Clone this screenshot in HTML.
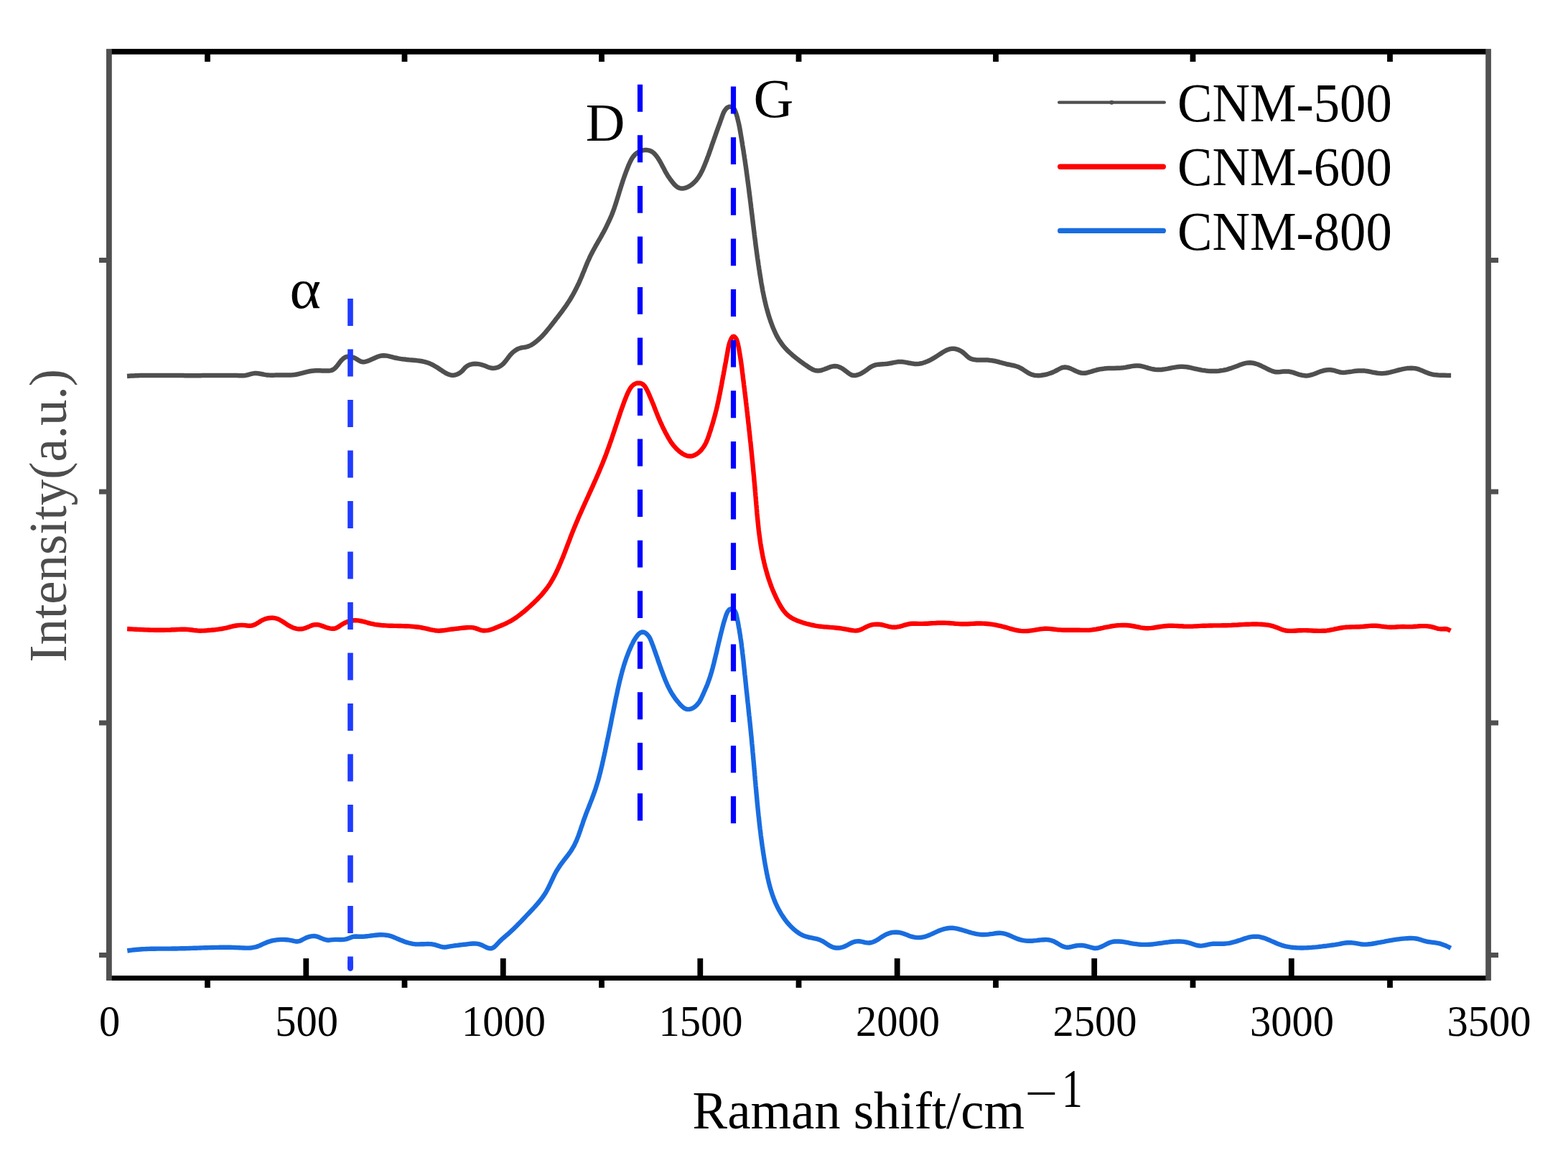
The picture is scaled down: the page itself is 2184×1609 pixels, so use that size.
<!DOCTYPE html>
<html lang="en"><head><meta charset="utf-8"><title>Raman spectra of CNM-500, CNM-600 and CNM-800</title>
<style>
html,body{margin:0;padding:0;background:#fff;}
body{width:2184px;height:1609px;overflow:hidden;}
svg{display:block;width:2184px;height:1609px;}
text{font-family:"Liberation Serif","DejaVu Serif",serif;}
.tk{font-size:61px;fill:#000;text-anchor:middle;}
.lb{font-size:72px;fill:#000;}
.c{fill:none;stroke-linejoin:round;stroke-linecap:butt;}
.d{fill:none;stroke-width:7.2;stroke-dasharray:37.9 32.68;}
</style></head><body>
<svg width="2184" height="1609" viewBox="0 0 2184 1609">
<rect width="2184" height="1609" fill="#fff"/>
<path class="c" stroke="#4f4f4f" stroke-width="6.5" d="M177 523.9L180 523.7L183 523.5L186 523.4L189 523.3L192 523.2L195 523.1L198 523.1L201 523L204 523L207 523L210 522.9L213 522.9L216 522.9L219 522.9L222 523L225 523L228 523L231 523L234 523L237 523.1L240 523.1L243 523.1L246 523.1L249 523.1L252 523.1L255 523.1L258 523.2L261 523.2L264 523.2L267 523.2L270 523.2L273 523.2L276 523.2L279 523.2L282 523.1L285 523.1L288 523.1L291 523.1L294 523.1L297 523.1L300 523.1L303 523L306 523L309 523L312 523L315 523L318 522.9L321 522.9L324 522.9L327 523L330 523.1L333 523.2L336 523.3L339 523.2L342 522.9L345 522.3L348 521.4L350.9 520.6L353.9 520.1L356.8 520L359.7 520.3L362.6 520.7L365.5 521.3L368.5 521.9L371.4 522.4L374.4 522.6L377.4 522.7L380.4 522.7L383.4 522.6L386.4 522.4L389.4 522.4L392.4 522.4L395.5 522.4L398.5 522.5L401.4 522.5L404.4 522.4L407.4 522.3L410.4 522L413.4 521.5L416.3 520.8L419.3 520.1L422.3 519.4L425.2 518.6L428.2 517.9L431.1 517.3L434 516.8L436.9 516.5L439.8 516.3L442.8 516.3L445.7 516.3L448.7 516.4L451.8 516.6L454.9 516.6L458 516.6L461 516.1L463.6 515.1L466 513.5L468.1 511.4L470.1 509L472 506.5L473.9 503.9L476 501.5L478.3 499.3L480.8 497.7L483.5 496.8L486.4 496.7L489.3 497.1L492.3 498L495.1 499.3L497.8 500.9L500.4 502.5L503 503.7L505.8 504.2L508.6 503.9L511.6 503.1L514.5 502L517.3 500.8L520.2 499.5L523 498.2L525.8 497L528.6 496.1L531.4 495.5L534.3 495.2L537.2 495.4L540.2 495.9L543.2 496.6L546.2 497.4L549.1 498.2L552.1 498.8L555 499.4L557.9 499.9L560.8 500.3L563.7 500.6L566.7 500.9L569.7 501.2L572.7 501.4L575.7 501.7L578.7 502L581.7 502.4L584.7 502.8L587.7 503.3L590.6 503.9L593.5 504.7L596.3 505.5L599 506.6L601.7 507.8L604.3 509.2L606.9 510.7L609.5 512.3L612 514L614.6 515.7L617.2 517.5L619.8 519.1L622.5 520.6L625.2 521.7L627.9 522.5L630.7 522.7L633.6 522.4L636.4 521.6L639.1 520.3L641.6 518.6L644 516.5L646.1 514.1L648.2 511.8L650.5 510L653.1 508.5L655.8 507.6L658.8 507L661.8 506.8L664.8 506.9L667.9 507.4L670.9 508.1L673.8 509L676.6 510.1L679.3 511.2L682.1 512.2L684.8 512.8L687.7 512.9L690.8 512.5L693.8 511.6L696.6 510.2L699.1 508.4L701.2 506.5L703.2 504.3L705 502L706.8 499.6L708.6 497.2L710.5 494.8L712.5 492.6L714.7 490.5L717 488.7L719.6 487L722.2 485.7L725 484.7L728 484.1L731 483.7L734 483.1L736.8 482.1L739.5 480.9L742.1 479.3L744.6 477.6L746.9 475.7L749.2 473.8L751.5 471.8L753.6 469.7L755.7 467.6L757.7 465.4L759.7 463.1L761.6 460.8L763.5 458.5L765.4 456.2L767.3 453.8L769.1 451.5L771 449.1L772.8 446.7L774.6 444.3L776.5 442L778.3 439.6L780.1 437.2L782 434.8L783.7 432.4L785.5 429.9L787.3 427.5L789 425L790.6 422.5L792.3 420L793.9 417.5L795.4 415L796.9 412.4L798.4 409.8L799.8 407.2L801.2 404.5L802.6 401.9L803.9 399.2L805.2 396.5L806.5 393.8L807.7 391L808.9 388.3L810.1 385.5L811.2 382.7L812.3 379.9L813.5 377.2L814.6 374.4L815.7 371.6L816.9 368.8L818 366L819.2 363.3L820.5 360.6L821.7 357.8L823.1 355.1L824.4 352.5L825.8 349.8L827.2 347.2L828.7 344.5L830.1 341.9L831.6 339.3L833.1 336.7L834.6 334.1L836.1 331.5L837.6 328.8L839 326.2L840.5 323.6L841.9 321L843.3 318.3L844.6 315.6L845.9 312.9L847.2 310.2L848.5 307.5L849.7 304.8L850.9 302.1L852.1 299.3L853.2 296.5L854.2 293.7L855.3 290.9L856.2 288L857.2 285.2L858.1 282.3L859 279.4L859.9 276.5L860.8 273.6L861.7 270.8L862.5 267.9L863.4 265L864.3 262.2L865.2 259.3L866.1 256.5L867 253.7L867.9 250.8L868.9 248L869.9 245.2L870.9 242.4L871.9 239.6L873 236.8L874.1 234L875.2 231.1L876.4 228.3L877.7 225.5L879.1 222.7L880.6 220.1L882.3 217.7L884.3 215.5L886.6 213.5L889.1 211.9L891.8 210.6L894.6 209.6L897.5 209.1L900.3 209L903.1 209.4L905.8 210.2L908.4 211.5L910.7 213.3L912.8 215.5L914.8 218L916.7 220.7L918.4 223.4L920 226.3L921.5 229L922.9 231.7L924.3 234.3L925.6 236.8L926.9 239.3L928.3 241.7L929.8 244.2L931.4 246.7L933.2 249.2L935.1 251.7L937.1 254.4L939.2 256.9L941.6 259.2L944 261L946.6 262.1L949.3 262.5L952.1 262.4L954.9 261.8L957.6 260.7L960.3 259.3L962.8 257.6L965.2 255.7L967.4 253.6L969.5 251.4L971.3 249.1L973.1 246.6L974.7 244.1L976.1 241.5L977.5 238.8L978.8 236.1L980 233.3L981.2 230.6L982.3 227.8L983.4 225L984.5 222.2L985.5 219.4L986.6 216.6L987.6 213.8L988.6 210.9L989.6 208.1L990.6 205.3L991.5 202.5L992.5 199.6L993.5 196.8L994.5 194L995.5 191.1L996.5 188.3L997.5 185.4L998.5 182.6L999.5 179.8L1000.5 177L1001.6 174.1L1002.6 171.3L1003.6 168.5L1004.6 165.7L1005.6 162.9L1006.6 160L1007.7 157.3L1009.1 154.6L1010.9 152L1013 149.9L1015.7 148.7L1018.7 148.7L1021.2 150.1L1023 152.5L1024.3 155.3L1025.3 158.2L1026.2 161L1027 163.9L1027.7 166.8L1028.4 169.7L1029.1 172.6L1029.7 175.5L1030.3 178.5L1030.8 181.4L1031.3 184.4L1031.8 187.3L1032.3 190.3L1032.8 193.3L1033.3 196.2L1033.8 199.2L1034.2 202.2L1034.7 205.1L1035.2 208.1L1035.7 211.1L1036.1 214L1036.6 217L1037 220L1037.5 222.9L1037.9 225.9L1038.3 228.9L1038.8 231.9L1039.2 234.8L1039.6 237.8L1040 240.8L1040.4 243.7L1040.8 246.7L1041.2 249.7L1041.6 252.7L1042 255.6L1042.4 258.6L1042.8 261.6L1043.2 264.6L1043.5 267.5L1043.9 270.5L1044.3 273.5L1044.7 276.5L1045 279.4L1045.4 282.4L1045.8 285.4L1046.1 288.4L1046.5 291.4L1046.8 294.3L1047.2 297.3L1047.6 300.3L1047.9 303.3L1048.3 306.2L1048.6 309.2L1049 312.2L1049.4 315.2L1049.7 318.2L1050.1 321.1L1050.5 324.1L1050.8 327.1L1051.2 330.1L1051.6 333L1052 336L1052.3 339L1052.7 342L1053.1 344.9L1053.5 347.9L1053.9 350.9L1054.3 353.9L1054.7 356.8L1055.1 359.8L1055.6 362.8L1056 365.8L1056.4 368.7L1056.9 371.7L1057.3 374.7L1057.8 377.6L1058.2 380.6L1058.7 383.6L1059.2 386.6L1059.7 389.5L1060.1 392.5L1060.6 395.4L1061.2 398.4L1061.7 401.4L1062.2 404.3L1062.8 407.3L1063.4 410.2L1064 413.2L1064.6 416.1L1065.3 419L1066 421.9L1066.7 424.9L1067.4 427.8L1068.2 430.7L1069 433.5L1069.8 436.4L1070.6 439.3L1071.5 442.1L1072.5 445L1073.4 447.8L1074.5 450.6L1075.5 453.4L1076.6 456.2L1077.8 459L1079 461.7L1080.2 464.4L1081.5 467.1L1083 469.8L1084.5 472.4L1086.1 474.9L1087.8 477.4L1089.5 479.9L1091.4 482.2L1093.3 484.5L1095.4 486.7L1097.5 488.9L1099.6 490.9L1101.9 492.9L1104.1 494.9L1106.4 496.8L1108.8 498.7L1111.1 500.5L1113.5 502.3L1115.9 504.1L1118.3 505.8L1120.7 507.6L1123.2 509.3L1125.7 511L1128.2 512.7L1130.9 514.2L1133.7 515.5L1136.5 516.3L1139.3 516.6L1142.2 516.3L1145.1 515.5L1148 514.5L1150.9 513.4L1153.8 512.2L1156.7 511.1L1159.6 510.4L1162.4 510L1165.3 510.2L1168 510.9L1170.7 512L1173.4 513.5L1176 515.3L1178.6 517.3L1181.2 519.4L1183.7 521.2L1186.3 522.5L1189.1 523L1191.8 522.9L1194.6 522.3L1197.4 521.3L1200.1 519.9L1202.8 518.3L1205.3 516.6L1207.8 514.8L1210.2 513L1212.6 511.4L1215.1 510L1217.7 508.9L1220.5 508.1L1223.5 507.7L1226.5 507.4L1229.7 507.2L1232.8 507L1235.9 506.7L1238.8 506.3L1241.8 505.7L1244.6 505.1L1247.5 504.6L1250.4 504.1L1253.2 503.9L1256.2 504L1259.2 504.4L1262.2 504.9L1265.2 505.5L1268.3 506L1271.3 506.6L1274.3 506.9L1277.3 506.9L1280.2 506.7L1283.1 506.3L1285.9 505.5L1288.7 504.6L1291.5 503.5L1294.2 502.3L1296.9 500.9L1299.6 499.4L1302.3 497.8L1304.9 496.1L1307.5 494.4L1310.1 492.7L1312.7 491L1315.3 489.5L1317.9 488.1L1320.6 487L1323.3 486.1L1326 485.7L1328.9 485.8L1331.8 486.3L1334.7 487.2L1337.5 488.5L1340.2 490.1L1342.7 492.1L1344.9 494.2L1347.1 496.3L1349.4 498.2L1351.9 499.6L1354.6 500.5L1357.4 501.1L1360.5 501.4L1363.5 501.5L1366.7 501.5L1369.8 501.4L1372.8 501.5L1375.8 501.6L1378.7 501.9L1381.6 502.3L1384.5 502.7L1387.4 503.3L1390.2 504L1393.1 504.8L1396.1 505.6L1399 506.4L1401.9 507.2L1404.9 507.8L1407.8 508.4L1410.7 509L1413.6 509.7L1416.4 510.5L1419.2 511.6L1421.8 512.9L1424.4 514.4L1426.9 516.1L1429.5 517.8L1432.1 519.4L1434.7 520.8L1437.4 521.9L1440.3 522.7L1443.3 523.1L1446.4 523.2L1449.5 523L1452.5 522.5L1455.5 522L1458.3 521.3L1461 520.5L1463.7 519.6L1466.4 518.6L1469 517.4L1471.7 516L1474.5 514.5L1477.3 513L1480.2 511.9L1483 511.6L1485.9 511.8L1488.7 512.5L1491.5 513.6L1494.4 514.9L1497.2 516.3L1500 517.6L1502.8 518.7L1505.7 519.5L1508.5 519.8L1511.4 519.7L1514.3 519.2L1517.2 518.4L1520.1 517.6L1523 516.6L1526 515.8L1528.9 515L1531.8 514.4L1534.8 514L1537.7 513.6L1540.6 513.3L1543.6 513.1L1546.6 513L1549.5 512.9L1552.5 512.9L1555.5 512.8L1558.4 512.7L1561.4 512.6L1564.4 512.3L1567.4 511.9L1570.4 511.3L1573.4 510.7L1576.4 510.1L1579.4 509.7L1582.4 509.4L1585.3 509.5L1588.3 509.8L1591.2 510.4L1594.1 511.1L1597 512L1599.9 512.8L1602.8 513.6L1605.8 514.3L1608.7 514.8L1611.6 515L1614.6 515L1617.5 514.9L1620.5 514.6L1623.5 514.1L1626.4 513.6L1629.4 513L1632.4 512.4L1635.4 511.9L1638.4 511.4L1641.3 511L1644.3 510.8L1647.2 510.7L1650.2 510.9L1653.1 511.3L1656 511.8L1659 512.4L1661.9 513.1L1664.9 513.8L1667.8 514.4L1670.8 515L1673.8 515.6L1676.8 516L1679.7 516.4L1682.7 516.7L1685.7 516.9L1688.7 517L1691.7 517L1694.7 516.9L1697.7 516.7L1700.6 516.3L1703.5 515.9L1706.5 515.3L1709.4 514.6L1712.2 513.7L1715.1 512.8L1718 511.8L1720.8 510.8L1723.7 509.7L1726.5 508.6L1729.4 507.5L1732.2 506.6L1735.1 505.9L1738 505.4L1740.8 505.3L1743.7 505.5L1746.6 506L1749.5 506.8L1752.4 507.8L1755.3 509L1758.1 510.4L1760.9 511.7L1763.7 513.1L1766.4 514.5L1769.1 515.8L1771.7 516.8L1774.5 517.7L1777.3 518.2L1780.2 518.3L1783.4 518L1786.5 517.6L1789.6 517.4L1792.7 517.4L1795.6 517.6L1798.4 518.2L1801.2 518.9L1803.9 519.9L1806.8 520.8L1809.8 521.8L1812.7 522.5L1815.7 523.1L1818.7 523.4L1821.7 523.2L1824.6 522.7L1827.4 522L1830.3 521L1833.1 519.9L1835.9 518.8L1838.8 517.7L1841.6 516.8L1844.5 516L1847.4 515.5L1850.4 515.2L1853.3 515.3L1856.3 515.7L1859.2 516.4L1862.2 517.3L1865.2 518.2L1868.1 518.7L1871.1 518.9L1874 518.8L1877 518.4L1880 518L1882.9 517.6L1885.9 517.1L1888.9 516.8L1891.9 516.5L1894.9 516.4L1897.9 516.4L1900.8 516.6L1903.8 517L1906.7 517.5L1909.7 518.1L1912.7 518.8L1915.6 519.3L1918.6 519.8L1921.5 520.1L1924.5 520.2L1927.4 520L1930.3 519.7L1933.3 519.2L1936.2 518.6L1939.1 517.8L1942.1 517.1L1945 516.3L1948 515.5L1950.9 514.8L1953.9 514.1L1956.8 513.6L1959.8 513.1L1962.7 512.9L1965.6 512.8L1968.5 512.9L1971.4 513.3L1974.3 513.9L1977.2 514.9L1980 516L1982.9 517.2L1985.7 518.4L1988.6 519.6L1991.5 520.6L1994.3 521.4L1997.2 522L2000.2 522.3L2003.1 522.6L2006.1 522.7L2009 522.8L2012 522.8L2015.1 522.9L2018.1 522.9L2021.1 522.9"/>
<path class="c" stroke="#ff0000" stroke-width="6.4" d="M177.1 876L180.1 876.2L183.1 876.4L186.1 876.6L189.1 876.7L192.1 876.9L195.1 877L198.1 877.1L201.1 877.3L204.1 877.4L207.1 877.5L210.1 877.6L213.1 877.6L216.1 877.7L219.1 877.7L222.1 877.7L225.1 877.7L228.1 877.7L231.1 877.6L234.1 877.6L237.1 877.5L240.1 877.3L243.1 877.2L246.1 877L249.1 876.9L252.1 876.8L255.1 876.7L258.1 876.7L261.1 876.9L264 877.2L267 877.5L270 878L273 878.3L276 878.6L279 878.7L282 878.6L285 878.5L288 878.3L291 878L294 877.8L297 877.5L300 877.2L302.9 876.8L305.9 876.4L308.8 876L311.8 875.4L314.7 874.8L317.6 874.1L320.4 873.3L323.3 872.6L326.2 872L329.1 871.5L332.1 871.1L335.1 870.9L338.1 870.9L341.2 871.1L344.3 871.5L347.4 871.8L350.3 871.6L353 870.9L355.7 869.8L358.2 868.3L360.8 866.7L363.4 865L366.1 863.6L369 862.4L372 861.5L375 861L378.1 860.7L381.1 860.8L384 861.3L386.8 862.2L389.5 863.4L392.1 864.9L394.6 866.5L397.1 868.2L399.7 869.9L402.3 871.5L404.9 872.9L407.6 874.2L410.4 875.2L413.2 875.9L416 876.3L418.9 876.3L421.8 876L424.7 875.2L427.6 874.1L430.5 872.8L433.3 871.6L436.2 870.6L439.1 870.1L442 870.2L444.9 870.7L447.7 871.6L450.6 872.6L453.5 873.7L456.5 874.7L459.4 875.4L462.3 875.8L465.1 875.8L467.9 875.1L470.6 873.7L473.2 872L475.9 870.2L478.6 868.6L481.4 867.2L484.2 866.1L487 865.2L489.9 864.6L492.8 864.3L495.7 864.2L498.6 864.4L501.5 864.9L504.5 865.5L507.4 866.2L510.3 867L513.2 867.8L516.2 868.6L519.1 869.2L522.1 869.8L525.1 870.3L528 870.6L531 871L534 871.2L537 871.4L540 871.6L543 871.7L546 871.8L549 871.9L552 871.9L555 872L558 872L561 872.1L563.9 872.2L566.9 872.3L569.9 872.4L572.9 872.6L575.9 872.9L578.9 873.2L581.9 873.5L584.8 873.9L587.8 874.5L590.8 875.1L593.7 875.7L596.7 876.4L599.6 877.1L602.5 877.7L605.5 878.2L608.5 878.5L611.4 878.7L614.4 878.5L617.4 878.3L620.4 877.8L623.4 877.4L626.4 876.9L629.4 876.5L632.4 876.2L635.3 875.8L638.3 875.5L641.3 875.1L644.3 874.8L647.3 874.5L650.2 874.2L653.2 874.1L656.2 874.1L659.2 874.4L662.1 875.1L665 876.1L667.9 877.2L670.8 878.1L673.7 878.5L676.6 878.4L679.6 878.1L682.5 877.4L685.4 876.5L688.2 875.5L691.1 874.3L693.9 873.1L696.7 872L699.5 870.8L702.3 869.6L705 868.3L707.6 867L710.2 865.7L712.8 864.2L715.3 862.6L717.8 861L720.3 859.3L722.7 857.5L725.1 855.7L727.4 853.8L729.8 851.9L732.1 850L734.4 848L736.6 846L738.9 844L741.1 841.9L743.3 839.9L745.4 837.8L747.6 835.7L749.7 833.5L751.7 831.4L753.8 829.2L755.7 826.9L757.6 824.6L759.5 822.3L761.3 820L763.1 817.5L764.8 815.1L766.4 812.6L768 810L769.5 807.4L770.9 804.8L772.4 802.2L773.7 799.5L775.1 796.8L776.3 794.1L777.6 791.3L778.8 788.6L780 785.8L781.2 783L782.3 780.2L783.5 777.4L784.6 774.7L785.7 771.9L786.8 769.1L787.8 766.3L788.9 763.5L790 760.7L791 757.9L792.1 755.1L793.2 752.3L794.2 749.5L795.3 746.7L796.4 743.9L797.5 741.1L798.6 738.3L799.7 735.6L800.9 732.8L802 730L803.2 727.2L804.4 724.5L805.5 721.7L806.7 719L808 716.2L809.2 713.5L810.4 710.7L811.6 708L812.9 705.2L814.1 702.5L815.3 699.8L816.6 697L817.8 694.3L819.1 691.6L820.3 688.8L821.5 686.1L822.8 683.3L824 680.6L825.3 677.9L826.5 675.1L827.7 672.4L828.9 669.7L830.1 666.9L831.3 664.2L832.5 661.4L833.7 658.7L834.9 655.9L836.1 653.1L837.2 650.4L838.4 647.6L839.5 644.8L840.6 642L841.7 639.3L842.8 636.5L843.9 633.7L844.9 630.8L846 628L847 625.2L848 622.4L849 619.5L850 616.7L851 613.9L852 611L852.9 608.2L853.9 605.3L854.8 602.5L855.8 599.6L856.7 596.8L857.7 593.9L858.6 591.1L859.6 588.2L860.5 585.4L861.5 582.5L862.4 579.7L863.4 576.9L864.3 574L865.3 571.2L866.3 568.4L867.3 565.6L868.3 562.8L869.3 560L870.4 557.2L871.5 554.5L872.6 551.7L873.8 548.8L875.1 546L876.6 543.1L878.2 540.4L880.1 538L882.3 536L884.9 534.5L887.7 533.7L890.5 533.6L893.3 534.2L895.8 535.6L897.9 537.8L899.7 540.5L901.2 543.4L902.6 546.2L903.9 549L905 551.7L906.2 554.5L907.4 557.2L908.5 560L909.7 562.7L910.8 565.5L911.8 568.3L912.9 571L914 573.8L915.1 576.6L916.2 579.4L917.4 582.2L918.6 585L919.8 587.8L921.1 590.5L922.3 593.3L923.6 596L925 598.7L926.3 601.4L927.7 604L929.1 606.6L930.5 609.2L932 611.7L933.5 614.2L935.1 616.6L936.9 619L938.8 621.4L940.9 623.7L943.1 626L945.5 628.2L948 630.2L950.6 632L953.2 633.5L955.9 634.6L958.7 635.3L961.4 635.5L964.1 635.2L966.7 634.4L969.3 633.2L971.7 631.6L974.1 629.6L976.3 627.4L978.3 625L980.1 622.5L981.8 619.8L983.2 617.1L984.4 614.4L985.5 611.7L986.5 608.9L987.5 606.1L988.4 603.3L989.4 600.4L990.3 597.6L991.1 594.7L992 591.9L992.9 589L993.7 586.1L994.5 583.2L995.3 580.3L996.1 577.4L996.8 574.5L997.6 571.5L998.3 568.6L999 565.7L999.6 562.7L1000.3 559.8L1000.9 556.9L1001.5 554L1002.1 551L1002.7 548.1L1003.3 545.1L1003.8 542.2L1004.4 539.3L1005 536.3L1005.5 533.4L1006 530.4L1006.6 527.5L1007.1 524.5L1007.7 521.6L1008.2 518.6L1008.8 515.6L1009.3 512.7L1009.9 509.7L1010.4 506.8L1011 503.8L1011.5 500.9L1012 497.9L1012.6 495L1013.1 492.1L1013.6 489.1L1014.1 486.2L1014.7 483.3L1015.4 480.3L1016.3 477.1L1017.6 473.8L1019 470.9L1020.7 469L1022.5 468.7L1024.2 470.1L1025.8 472.7L1027 476L1027.8 479.3L1028.5 482.4L1029.1 485.4L1029.6 488.3L1030.1 491.2L1030.6 494.2L1031.1 497.1L1031.5 500.1L1032 503.1L1032.4 506L1032.8 509L1033.2 512L1033.6 515L1033.9 517.9L1034.3 520.9L1034.7 523.9L1035 526.9L1035.4 529.8L1035.8 532.8L1036.1 535.8L1036.5 538.8L1036.9 541.8L1037.2 544.7L1037.6 547.7L1038 550.7L1038.3 553.7L1038.7 556.7L1039 559.6L1039.4 562.6L1039.7 565.6L1040.1 568.6L1040.4 571.6L1040.8 574.5L1041.1 577.5L1041.4 580.5L1041.8 583.5L1042.1 586.5L1042.4 589.5L1042.8 592.4L1043.1 595.4L1043.4 598.4L1043.8 601.4L1044.1 604.4L1044.4 607.4L1044.7 610.3L1045 613.3L1045.4 616.3L1045.7 619.3L1046 622.3L1046.3 625.3L1046.6 628.2L1046.9 631.2L1047.2 634.2L1047.5 637.2L1047.8 640.2L1048.1 643.2L1048.4 646.2L1048.7 649.2L1049 652.1L1049.2 655.1L1049.5 658.1L1049.8 661.1L1050.1 664.1L1050.3 667.1L1050.6 670.1L1050.9 673.1L1051.2 676.1L1051.4 679.1L1051.7 682L1051.9 685L1052.2 688L1052.4 691L1052.7 694L1052.9 697L1053.2 700L1053.4 703L1053.7 706L1053.9 709L1054.2 712L1054.4 715L1054.7 718L1055 721L1055.3 723.9L1055.6 726.9L1055.9 729.9L1056.2 732.9L1056.5 735.9L1056.8 738.9L1057.2 741.8L1057.6 744.8L1058 747.8L1058.4 750.8L1058.8 753.7L1059.2 756.7L1059.7 759.6L1060.2 762.6L1060.7 765.6L1061.2 768.5L1061.8 771.5L1062.3 774.4L1062.9 777.3L1063.6 780.3L1064.2 783.2L1064.9 786.1L1065.6 789L1066.4 791.9L1067.2 794.8L1068 797.7L1068.8 800.6L1069.7 803.4L1070.6 806.3L1071.6 809.1L1072.6 812L1073.6 814.8L1074.6 817.6L1075.7 820.4L1076.9 823.2L1078 826L1079.3 828.7L1080.5 831.4L1081.8 834.2L1083.2 836.9L1084.6 839.6L1086 842.2L1087.5 844.8L1089.1 847.4L1090.8 849.8L1092.6 852.2L1094.6 854.4L1096.7 856.5L1098.9 858.3L1101.4 860L1103.9 861.6L1106.6 862.9L1109.4 864.2L1112.2 865.3L1115.1 866.3L1117.9 867.3L1120.8 868.2L1123.7 869L1126.6 869.7L1129.5 870.4L1132.4 871L1135.4 871.6L1138.3 872.1L1141.3 872.5L1144.2 872.8L1147.2 873.2L1150.2 873.4L1153.2 873.6L1156.3 873.9L1159.3 874.1L1162.3 874.4L1165.2 874.7L1168.2 875L1171.1 875.4L1174.1 875.9L1177 876.4L1180 876.9L1183 877.5L1186 878L1188.9 878.4L1191.9 878.6L1194.8 878.3L1197.6 877.6L1200.4 876.5L1203.2 875L1205.9 873.6L1208.7 872.3L1211.5 871.3L1214.4 870.4L1217.3 869.9L1220.3 869.6L1223.2 869.7L1226.2 870L1229.2 870.5L1232.2 871.3L1235.1 872L1238 872.8L1240.9 873.4L1243.9 873.8L1246.8 873.8L1249.7 873.4L1252.7 872.9L1255.7 872.1L1258.6 871.2L1261.5 870.4L1264.5 869.6L1267.4 869L1270.3 868.7L1273.3 868.7L1276.3 868.8L1279.3 868.9L1282.3 868.9L1285.3 868.9L1288.3 868.8L1291.3 868.7L1294.3 868.5L1297.3 868.3L1300.3 868.1L1303.3 868L1306.3 867.8L1309.3 867.8L1312.3 867.7L1315.3 867.7L1318.2 867.9L1321.2 868L1324.2 868.2L1327.2 868.4L1330.2 868.7L1333.2 868.9L1336.1 869.1L1339.1 869.2L1342.1 869.3L1345.1 869.3L1348.1 869.2L1351.1 869L1354.1 868.9L1357.1 868.7L1360.1 868.5L1363.1 868.5L1366.1 868.5L1369.1 868.6L1372.1 868.7L1375.1 869L1378.1 869.3L1381.1 869.7L1384 870.2L1387 870.7L1389.9 871.3L1392.9 871.9L1395.8 872.7L1398.7 873.4L1401.6 874.2L1404.5 875L1407.3 875.8L1410.2 876.6L1413.1 877.4L1416 878L1418.9 878.5L1421.9 878.9L1424.8 879.1L1427.9 879.1L1430.9 879L1433.9 878.7L1437 878.3L1440 877.9L1443 877.4L1446 876.9L1449 876.4L1451.9 876.1L1454.9 875.8L1457.9 875.8L1460.9 875.9L1463.8 876.1L1466.8 876.5L1469.8 876.8L1472.8 877.2L1475.8 877.4L1478.8 877.6L1481.7 877.7L1484.7 877.7L1487.7 877.7L1490.7 877.7L1493.7 877.7L1496.7 877.7L1499.7 877.7L1502.8 877.8L1505.8 877.9L1508.8 877.9L1511.8 877.9L1514.8 877.9L1517.8 877.7L1520.8 877.4L1523.7 877L1526.7 876.6L1529.6 876L1532.6 875.5L1535.5 874.9L1538.5 874.2L1541.4 873.6L1544.4 873.1L1547.3 872.5L1550.3 872L1553.3 871.6L1556.2 871.3L1559.2 871.1L1562.2 871L1565.2 870.9L1568.2 871L1571.2 871.2L1574.1 871.5L1577.1 872L1580.1 872.5L1583 873.1L1586 873.7L1588.9 874.3L1591.9 874.7L1594.9 875L1597.9 875.2L1600.9 875.1L1603.9 874.9L1606.9 874.5L1609.9 874L1612.8 873.5L1615.8 873L1618.8 872.6L1621.7 872.3L1624.7 872L1627.7 871.8L1630.7 871.8L1633.7 871.8L1636.7 871.9L1639.7 872L1642.7 872.2L1645.7 872.3L1648.7 872.5L1651.7 872.6L1654.7 872.6L1657.7 872.6L1660.7 872.6L1663.7 872.4L1666.7 872.3L1669.7 872.1L1672.7 871.9L1675.7 871.8L1678.7 871.7L1681.7 871.6L1684.7 871.5L1687.7 871.5L1690.7 871.4L1693.7 871.4L1696.7 871.4L1699.7 871.4L1702.7 871.3L1705.7 871.3L1708.7 871.2L1711.7 871.1L1714.7 871L1717.7 870.8L1720.7 870.6L1723.7 870.5L1726.7 870.3L1729.7 870.1L1732.7 869.9L1735.7 869.8L1738.7 869.7L1741.7 869.6L1744.7 869.5L1747.7 869.5L1750.7 869.5L1753.7 869.6L1756.7 869.8L1759.6 870L1762.6 870.3L1765.6 870.7L1768.5 871.2L1771.4 871.9L1774.3 872.7L1777.2 873.7L1780 874.8L1782.7 875.9L1785.5 877L1788.4 877.9L1791.3 878.5L1794.2 878.8L1797.2 878.9L1800.2 878.9L1803.3 878.7L1806.3 878.5L1809.4 878.3L1812.4 878.2L1815.4 878.1L1818.4 878.1L1821.4 878.2L1824.3 878.4L1827.3 878.5L1830.3 878.7L1833.3 878.8L1836.3 878.9L1839.3 878.9L1842.4 878.8L1845.4 878.7L1848.4 878.4L1851.3 878L1854.3 877.4L1857.2 876.9L1860.2 876.2L1863.1 875.6L1866 875L1869 874.5L1871.9 874.1L1874.9 873.8L1877.8 873.6L1880.8 873.5L1883.8 873.4L1886.8 873.4L1889.8 873.3L1892.8 873.2L1895.8 873L1898.8 872.8L1901.8 872.5L1904.8 872.2L1907.8 871.9L1910.8 871.7L1913.8 871.7L1916.8 871.8L1919.7 872L1922.7 872.4L1925.7 872.8L1928.7 873.1L1931.7 873.4L1934.7 873.6L1937.6 873.7L1940.6 873.6L1943.6 873.5L1946.6 873.3L1949.6 873.1L1952.6 873L1955.6 873L1958.6 873.1L1961.6 873.1L1964.6 873.1L1967.6 873L1970.7 872.8L1973.7 872.6L1976.7 872.3L1979.7 872.1L1982.7 872.1L1985.6 872.1L1988.6 872.4L1991.6 872.7L1994.5 873.3L1997.4 874.1L2000.3 875L2003.2 875.8L2006.2 876.2L2009.1 876.2L2012.1 876L2015 876.3L2017.8 877.3L2020.5 878.6"/>
<path class="c" stroke="#196de0" stroke-width="6.4" d="M177.3 1324.5L180.3 1324L183.2 1323.6L186.2 1323.3L189.1 1323L192.1 1322.7L195.1 1322.5L198.1 1322.3L201.1 1322.1L204.1 1322L207.1 1321.9L210.1 1321.8L213 1321.7L216.1 1321.7L219.1 1321.6L222.1 1321.6L225.1 1321.6L228.1 1321.6L231.1 1321.6L234.1 1321.6L237.1 1321.6L240.1 1321.5L243.1 1321.5L246.1 1321.5L249.1 1321.4L252.1 1321.3L255.1 1321.3L258.1 1321.2L261.1 1321.1L264.1 1321L267.1 1320.9L270.1 1320.8L273.1 1320.7L276.1 1320.6L279.1 1320.5L282.1 1320.4L285.1 1320.3L288.1 1320.2L291.1 1320.1L294.1 1320L297.1 1320L300.1 1319.9L303.1 1319.9L306.1 1319.8L309.1 1319.8L312.1 1319.8L315.1 1319.8L318.1 1319.8L321.1 1319.8L324.1 1319.9L327.1 1320L330.1 1320.1L333.1 1320.2L336.1 1320.4L339.1 1320.5L342.1 1320.6L345.1 1320.6L348 1320.5L351 1320.2L353.9 1319.7L356.7 1319.1L359.6 1318.1L362.3 1317L365.1 1315.7L367.9 1314.4L370.7 1313.2L373.5 1312.1L376.4 1311.2L379.3 1310.4L382.2 1309.8L385.2 1309.4L388.2 1309.1L391.2 1308.9L394.2 1308.9L397.2 1309L400.1 1309.2L403.1 1309.6L406.1 1310.1L409.1 1310.8L412 1311.5L414.8 1311.5L417.6 1310.8L420.4 1309.5L423.2 1308L426 1306.6L428.9 1305.5L431.8 1304.6L434.7 1304.1L437.6 1304L440.5 1304.4L443.4 1305.3L446.2 1306.4L449.1 1307.6L451.9 1308.7L454.8 1309.5L457.7 1309.7L460.6 1309.4L463.6 1309.1L466.7 1308.9L469.7 1308.9L472.7 1309L475.8 1309L478.7 1308.9L481.7 1308.4L484.5 1307.6L487.3 1306.5L490.1 1305.4L493 1304.7L496 1304.5L499 1304.7L502 1304.8L505 1304.7L508 1304.5L511 1304.2L513.9 1303.9L516.9 1303.5L519.9 1303.1L522.9 1302.8L525.9 1302.5L528.9 1302.3L531.9 1302.3L534.9 1302.4L537.8 1302.7L540.7 1303.2L543.6 1303.9L546.5 1304.8L549.3 1305.9L552 1307.1L554.8 1308.3L557.6 1309.5L560.4 1310.6L563.3 1311.7L566.1 1312.7L569 1313.5L571.9 1314.2L574.9 1314.8L577.8 1315.2L580.8 1315.4L583.8 1315.4L586.8 1315.3L589.8 1315.2L592.8 1315.1L595.8 1315L598.8 1315.1L601.7 1315.3L604.7 1315.9L607.6 1316.7L610.5 1317.6L613.3 1318.6L616.2 1319.2L619.2 1319.5L622.2 1319.2L625.2 1318.6L628.2 1318.1L631.3 1317.7L634.3 1317.2L637.3 1316.9L640.4 1316.5L643.4 1316.1L646.4 1315.8L649.4 1315.5L652.3 1315.1L655.3 1314.7L658.2 1314.5L661 1314.4L663.9 1314.6L666.8 1315.1L669.6 1316L672.5 1317.2L675.3 1318.7L678.1 1320.1L680.9 1321L683.6 1321.3L686.2 1320.7L688.7 1319L691.1 1316.7L693.5 1314.1L695.8 1311.6L698.1 1309.4L700.3 1307.4L702.5 1305.5L704.7 1303.6L706.9 1301.8L709 1299.9L711.2 1297.9L713.3 1295.9L715.5 1293.9L717.6 1291.8L719.7 1289.7L721.8 1287.5L723.9 1285.4L726.1 1283.2L728.2 1281L730.3 1278.8L732.3 1276.6L734.4 1274.4L736.5 1272.2L738.6 1270L740.7 1267.8L742.7 1265.6L744.8 1263.4L746.7 1261.2L748.7 1258.9L750.6 1256.6L752.5 1254.3L754.3 1252L756 1249.6L757.7 1247.1L759.3 1244.7L760.9 1242.1L762.3 1239.5L763.7 1236.8L765 1234.1L766.3 1231.4L767.6 1228.7L768.9 1225.9L770.2 1223.2L771.5 1220.4L772.8 1217.7L774.2 1215.1L775.7 1212.4L777.3 1209.9L778.9 1207.4L780.6 1204.9L782.4 1202.5L784.2 1200.1L786 1197.7L787.9 1195.3L789.7 1193L791.5 1190.6L793.3 1188.2L795 1185.7L796.6 1183.2L798.1 1180.7L799.6 1178.1L800.9 1175.4L802.2 1172.7L803.4 1169.9L804.5 1167.1L805.6 1164.3L806.6 1161.5L807.6 1158.6L808.6 1155.8L809.5 1152.9L810.5 1150.1L811.5 1147.3L812.4 1144.4L813.4 1141.6L814.4 1138.8L815.5 1136L816.5 1133.2L817.6 1130.4L818.7 1127.6L819.8 1124.8L820.9 1122L822 1119.2L823.1 1116.4L824.2 1113.6L825.2 1110.8L826.3 1108L827.3 1105.1L828.3 1102.3L829.3 1099.5L830.2 1096.6L831.1 1093.8L832 1090.9L832.9 1088L833.7 1085.1L834.5 1082.2L835.2 1079.3L836 1076.4L836.7 1073.5L837.4 1070.6L838.1 1067.7L838.8 1064.8L839.4 1061.8L840.1 1058.9L840.7 1056L841.4 1053L842 1050.1L842.7 1047.2L843.3 1044.2L843.9 1041.3L844.5 1038.4L845.1 1035.4L845.7 1032.5L846.4 1029.6L847 1026.6L847.6 1023.7L848.2 1020.7L848.8 1017.8L849.4 1014.9L850 1011.9L850.6 1009L851.2 1006L851.7 1003.1L852.3 1000.2L852.9 997.2L853.5 994.3L854.1 991.3L854.7 988.4L855.3 985.5L855.9 982.5L856.5 979.6L857.1 976.6L857.7 973.7L858.3 970.7L859 967.8L859.6 964.9L860.2 961.9L860.8 959L861.5 956L862.2 953.1L862.8 950.2L863.5 947.3L864.3 944.4L865 941.4L865.8 938.5L866.5 935.7L867.3 932.8L868.2 929.9L869 927L869.9 924.2L870.9 921.3L871.8 918.5L872.8 915.7L873.9 912.9L874.9 910.1L876 907.3L877.2 904.6L878.4 901.8L879.6 899.1L881 896.4L882.3 893.7L883.9 891L885.6 888.3L887.5 885.6L889.6 883.2L891.8 881.4L894.2 880.5L896.7 880.7L899.2 881.9L901.6 884L903.7 886.5L905.3 889.2L906.5 891.9L907.6 894.6L908.6 897.4L909.7 900.2L910.7 903L911.7 905.9L912.7 908.7L913.7 911.6L914.7 914.4L915.7 917.2L916.6 920.1L917.6 922.9L918.6 925.7L919.6 928.5L920.6 931.3L921.6 934.2L922.7 937L923.7 939.8L924.8 942.7L925.9 945.5L927 948.3L928.2 951.1L929.4 953.8L930.7 956.5L932 959.2L933.4 961.8L934.8 964.4L936.3 966.9L938 969.4L939.6 971.8L941.4 974.3L943.3 976.7L945.3 979L947.3 981.4L949.5 983.6L951.9 985.7L954.4 987.2L957.1 988.1L959.9 988.1L962.9 987.4L965.6 986.1L968.1 984.4L970.3 982.4L972.2 980.2L974 977.8L975.5 975.2L976.9 972.5L978.2 969.7L979.5 966.9L980.7 964.1L981.9 961.4L983.1 958.6L984.3 955.9L985.4 953.2L986.4 950.4L987.4 947.6L988.4 944.7L989.3 941.9L990.2 939L991.1 936.1L991.9 933.2L992.7 930.3L993.4 927.4L994.2 924.5L994.9 921.6L995.6 918.6L996.3 915.7L997 912.8L997.7 909.9L998.4 907L999 904.1L999.7 901.2L1000.4 898.3L1001.1 895.3L1001.8 892.4L1002.5 889.5L1003.2 886.5L1003.9 883.6L1004.6 880.7L1005.4 877.7L1006.1 874.8L1006.9 871.9L1007.6 869.1L1008.4 866.3L1009.3 863.5L1010.2 860.6L1011.1 857.7L1012.3 854.6L1013.7 851.7L1015.7 849.3L1018.2 848.2L1020.9 848.7L1023.2 850.8L1024.7 853.4L1025.6 856.3L1026.3 859.3L1026.9 862.3L1027.5 865.2L1028.1 868.2L1028.6 871.2L1029.1 874.1L1029.7 877.1L1030.1 880.1L1030.6 883L1031.1 886L1031.5 889L1032 892L1032.4 894.9L1032.8 897.9L1033.1 900.9L1033.5 903.9L1033.9 906.8L1034.2 909.8L1034.6 912.8L1034.9 915.8L1035.3 918.7L1035.6 921.7L1035.9 924.7L1036.2 927.7L1036.5 930.7L1036.8 933.6L1037.1 936.6L1037.4 939.6L1037.8 942.6L1038.1 945.6L1038.4 948.6L1038.7 951.5L1039 954.5L1039.3 957.5L1039.6 960.5L1039.9 963.5L1040.3 966.5L1040.6 969.5L1040.9 972.4L1041.2 975.4L1041.5 978.4L1041.9 981.4L1042.2 984.4L1042.5 987.4L1042.8 990.4L1043.1 993.4L1043.4 996.3L1043.8 999.3L1044.1 1002.3L1044.4 1005.3L1044.7 1008.3L1045 1011.3L1045.3 1014.3L1045.6 1017.3L1045.9 1020.3L1046.2 1023.3L1046.5 1026.2L1046.8 1029.2L1047.1 1032.2L1047.3 1035.2L1047.6 1038.2L1047.9 1041.2L1048.2 1044.2L1048.4 1047.2L1048.7 1050.2L1049 1053.1L1049.2 1056.1L1049.5 1059.1L1049.8 1062.1L1050 1065.1L1050.3 1068.1L1050.5 1071.1L1050.8 1074.1L1051.1 1077L1051.3 1080L1051.6 1083L1051.8 1086L1052.1 1089L1052.4 1092L1052.6 1095L1052.9 1097.9L1053.2 1100.9L1053.4 1103.9L1053.7 1106.9L1054 1109.9L1054.3 1112.9L1054.5 1115.9L1054.8 1118.8L1055.1 1121.8L1055.4 1124.8L1055.7 1127.8L1056 1130.8L1056.3 1133.8L1056.6 1136.7L1057 1139.7L1057.3 1142.7L1057.6 1145.7L1057.9 1148.7L1058.3 1151.6L1058.6 1154.6L1059 1157.6L1059.4 1160.6L1059.7 1163.6L1060.1 1166.5L1060.5 1169.5L1060.9 1172.5L1061.3 1175.5L1061.7 1178.5L1062.2 1181.4L1062.6 1184.4L1063 1187.4L1063.5 1190.4L1064 1193.3L1064.4 1196.3L1064.9 1199.3L1065.4 1202.3L1065.9 1205.2L1066.5 1208.2L1067 1211.2L1067.6 1214.2L1068.1 1217.1L1068.8 1220.1L1069.4 1223L1070.1 1225.9L1070.7 1228.9L1071.5 1231.8L1072.2 1234.7L1073 1237.5L1073.9 1240.4L1074.8 1243.3L1075.7 1246.1L1076.7 1248.9L1077.7 1251.7L1078.8 1254.5L1079.9 1257.2L1081.1 1259.9L1082.4 1262.6L1083.7 1265.3L1085.1 1267.9L1086.6 1270.5L1088.1 1273.1L1089.7 1275.6L1091.4 1278.1L1093.1 1280.6L1094.9 1283L1096.8 1285.4L1098.8 1287.7L1100.9 1289.9L1103 1292L1105.2 1294.1L1107.5 1296.1L1109.8 1297.9L1112.3 1299.7L1114.8 1301.2L1117.4 1302.6L1120.1 1303.8L1122.9 1304.7L1125.7 1305.5L1128.6 1306.1L1131.5 1306.7L1134.5 1307.3L1137.4 1307.9L1140.2 1308.8L1143 1309.8L1145.7 1311.1L1148.3 1312.7L1150.8 1314.4L1153.4 1316.1L1156 1317.7L1158.7 1319L1161.5 1320L1164.4 1320.5L1167.4 1320.5L1170.5 1320.2L1173.5 1319.5L1176.3 1318.5L1179.1 1317.2L1181.7 1315.8L1184.3 1314.3L1187 1313L1189.8 1312L1192.8 1311.4L1195.8 1311.2L1198.8 1311.5L1201.7 1312.2L1204.7 1312.9L1207.7 1313.4L1210.7 1313.5L1213.6 1313L1216.3 1312.2L1219 1311L1221.6 1309.5L1224.2 1307.9L1226.7 1306.2L1229.3 1304.5L1232 1302.9L1234.7 1301.5L1237.5 1300.4L1240.4 1299.5L1243.4 1298.9L1246.4 1298.7L1249.3 1298.7L1252.3 1299L1255.2 1299.7L1258.1 1300.5L1260.9 1301.6L1263.7 1302.6L1266.5 1303.7L1269.3 1304.7L1272.3 1305.4L1275.2 1305.9L1278.3 1306.1L1281.3 1306L1284.3 1305.7L1287.3 1305.1L1290.1 1304.2L1292.9 1303.2L1295.6 1302.1L1298.4 1300.9L1301.1 1299.6L1303.8 1298.4L1306.6 1297.1L1309.4 1296L1312.2 1295L1315.1 1294.2L1318 1293.5L1320.9 1293L1323.9 1292.8L1326.8 1292.8L1329.8 1293.1L1332.7 1293.6L1335.7 1294.3L1338.6 1295.1L1341.5 1296L1344.5 1296.9L1347.4 1297.8L1350.3 1298.7L1353.2 1299.5L1356.1 1300.2L1359 1300.8L1361.9 1301.3L1364.8 1301.7L1367.7 1302L1370.7 1302L1373.7 1301.9L1376.7 1301.6L1379.7 1301.2L1382.7 1300.8L1385.7 1300.3L1388.7 1300L1391.7 1299.8L1394.7 1299.9L1397.6 1300.3L1400.5 1301L1403.3 1302L1406.1 1303.1L1408.9 1304.3L1411.7 1305.6L1414.5 1306.8L1417.3 1307.9L1420.2 1308.9L1423 1309.7L1425.9 1310.2L1428.8 1310.6L1431.8 1310.8L1434.7 1310.8L1437.7 1310.7L1440.8 1310.4L1443.8 1310.1L1446.8 1309.7L1449.8 1309.4L1452.9 1309.2L1455.9 1309L1458.8 1309.1L1461.7 1309.5L1464.6 1310.2L1467.4 1311.2L1470.1 1312.6L1472.8 1314.1L1475.5 1315.8L1478.2 1317.3L1480.9 1318.5L1483.7 1319.4L1486.6 1319.7L1489.6 1319.5L1492.6 1318.9L1495.6 1318.1L1498.6 1317.5L1501.5 1317.1L1504.5 1316.9L1507.4 1317L1510.3 1317.4L1513.2 1318L1516.2 1318.8L1519.2 1319.7L1522.1 1320.5L1525.1 1321L1528 1320.8L1530.8 1320.1L1533.6 1319.1L1536.4 1317.7L1539.2 1316.2L1541.9 1314.8L1544.7 1313.5L1547.5 1312.5L1550.4 1311.8L1553.3 1311.5L1556.2 1311.4L1559.1 1311.5L1562 1311.7L1565 1312.2L1568 1312.7L1571 1313.2L1574 1313.8L1577 1314.4L1580 1314.8L1583 1315.2L1586 1315.6L1588.9 1315.8L1591.9 1315.9L1594.9 1315.9L1597.9 1315.9L1600.9 1315.7L1603.9 1315.5L1606.9 1315.2L1609.9 1314.8L1612.8 1314.4L1615.8 1314L1618.8 1313.6L1621.8 1313.1L1624.8 1312.7L1627.7 1312.4L1630.7 1312L1633.7 1311.8L1636.7 1311.6L1639.7 1311.5L1642.6 1311.5L1645.6 1311.6L1648.6 1311.9L1651.5 1312.4L1654.4 1313L1657.4 1313.8L1660.3 1314.8L1663.2 1315.8L1666.1 1316.7L1669 1317.3L1671.9 1317.6L1674.9 1317.4L1677.8 1316.9L1680.7 1316.3L1683.7 1315.7L1686.7 1315.1L1689.8 1314.8L1692.8 1314.7L1695.9 1314.7L1698.9 1314.7L1701.9 1314.7L1704.9 1314.7L1707.8 1314.4L1710.7 1314.1L1713.6 1313.6L1716.4 1312.9L1719.3 1312.2L1722.1 1311.4L1725 1310.4L1727.9 1309.5L1730.9 1308.4L1733.9 1307.4L1736.9 1306.5L1739.9 1305.7L1742.8 1305.1L1745.8 1304.7L1748.7 1304.6L1751.6 1304.7L1754.5 1305.2L1757.3 1305.8L1760.1 1306.6L1762.9 1307.6L1765.7 1308.7L1768.5 1309.8L1771.3 1311.1L1774.1 1312.3L1776.8 1313.5L1779.6 1314.7L1782.5 1315.8L1785.3 1316.8L1788.2 1317.6L1791.1 1318.3L1794 1318.9L1796.9 1319.4L1799.8 1319.8L1802.8 1320.1L1805.8 1320.3L1808.7 1320.4L1811.7 1320.5L1814.7 1320.5L1817.7 1320.4L1820.7 1320.3L1823.7 1320.1L1826.7 1319.9L1829.7 1319.6L1832.7 1319.4L1835.6 1319.1L1838.6 1318.7L1841.6 1318.4L1844.5 1318L1847.5 1317.7L1850.4 1317.3L1853.4 1316.9L1856.3 1316.5L1859.3 1316.1L1862.2 1315.6L1865.2 1315.1L1868.2 1314.5L1871.2 1313.9L1874.1 1313.5L1877.1 1313.2L1880.1 1313.1L1883.1 1313.3L1886.1 1313.7L1889 1314.2L1892 1314.7L1895 1315.2L1897.9 1315.5L1900.9 1315.6L1903.9 1315.6L1906.8 1315.3L1909.8 1315L1912.8 1314.5L1915.7 1314L1918.7 1313.4L1921.6 1312.9L1924.6 1312.3L1927.5 1311.8L1930.5 1311.2L1933.4 1310.7L1936.4 1310.1L1939.3 1309.6L1942.3 1309.1L1945.3 1308.7L1948.2 1308.3L1951.2 1307.9L1954.2 1307.6L1957.2 1307.4L1960.2 1307.2L1963.2 1307L1966.2 1307L1969.2 1307.1L1972.1 1307.5L1975 1308L1977.9 1308.9L1980.7 1309.8L1983.5 1310.7L1986.4 1311.4L1989.3 1312L1992.3 1312.4L1995.3 1312.8L1998.2 1313.1L2001.2 1313.6L2004.1 1314.1L2007 1314.9L2009.8 1315.9L2012.6 1316.9L2015.3 1318.2L2018 1319.4L2020.7 1320.8"/>
<path class="d" stroke="#0000ff" style="stroke-dasharray:37.9 32.64" d="M891.5 117.8V1143.9"/>
<path class="d" stroke="#0000ff" style="stroke-dasharray:37.9 32.72" d="M1021.5 120.6V1147"/>
<path class="d" stroke="#1f3bff" style="stroke-width:7.6;stroke-dasharray:37.8 32.7" d="M488 416.1V1349.5"/>
<path stroke="#1f3bff" stroke-width="7.6" stroke-linecap="round" fill="none" d="M488 1340V1349.1"/>
<g fill="#000">
<rect x="155" y="68.1" width="1915" height="7.7"/>
<rect x="155" y="1359.1" width="1915" height="6.9"/>
<rect x="285.1" y="74" width="7.8" height="12"/>
<rect x="285.1" y="1364" width="7.8" height="12"/>
<rect x="559.6" y="74" width="7.8" height="12"/>
<rect x="559.6" y="1364" width="7.8" height="12"/>
<rect x="834.1" y="74" width="7.8" height="12"/>
<rect x="834.1" y="1364" width="7.8" height="12"/>
<rect x="1108.6" y="74" width="7.8" height="12"/>
<rect x="1108.6" y="1364" width="7.8" height="12"/>
<rect x="1383.1" y="74" width="7.8" height="12"/>
<rect x="1383.1" y="1364" width="7.8" height="12"/>
<rect x="1657.6" y="74" width="7.8" height="12"/>
<rect x="1657.6" y="1364" width="7.8" height="12"/>
<rect x="1932.1" y="74" width="7.8" height="12"/>
<rect x="1932.1" y="1364" width="7.8" height="12"/>
<rect x="422.4" y="1335.1" width="7.8" height="26"/>
<rect x="696.9" y="1335.1" width="7.8" height="26"/>
<rect x="971.4" y="1335.1" width="7.8" height="26"/>
<rect x="1245.8" y="1335.1" width="7.8" height="26"/>
<rect x="1520.3" y="1335.1" width="7.8" height="26"/>
<rect x="1794.9" y="1335.1" width="7.8" height="26"/>
</g>
<g fill="#505050">
<rect x="148" y="68.1" width="7.8" height="1297.9"/>
<rect x="2069.2" y="68.1" width="7.7" height="1297.9"/>
<rect x="138" y="359" width="12" height="7"/>
<rect x="2075" y="359" width="12" height="7"/>
<rect x="138" y="681.5" width="12" height="7"/>
<rect x="2075" y="681.5" width="12" height="7"/>
<rect x="138" y="1003.5" width="12" height="7"/>
<rect x="2075" y="1003.5" width="12" height="7"/>
<rect x="138" y="1327" width="12" height="7"/>
<rect x="2075" y="1327" width="12" height="7"/>
</g>
<text class="tk" transform="translate(152.6 1443) scale(0.96 1)">0</text>
<text class="tk" transform="translate(427.1 1443) scale(0.96 1)">500</text>
<text class="tk" transform="translate(701.5 1443) scale(0.96 1)">1000</text>
<text class="tk" transform="translate(976.1 1443) scale(0.96 1)">1500</text>
<text class="tk" transform="translate(1250.5 1443) scale(0.96 1)">2000</text>
<text class="tk" transform="translate(1525 1443) scale(0.96 1)">2500</text>
<text class="tk" transform="translate(1799.6 1443) scale(0.96 1)">3000</text>
<text class="tk" transform="translate(2074.1 1443) scale(0.96 1)">3500</text>
<text class="lb" transform="translate(964.62 1572.27) scale(1.0104 1.0192)">Raman shift/cm</text>
<text class="lb" transform="translate(1427.55 1545.94) scale(1.1260 0.9444)">−</text>
<text class="lb" transform="translate(1478.91 1542.10) scale(0.8016 1.0687)">1</text>
<text class="lb" style="fill:#4d4d4d" transform="translate(91.58 922.65) rotate(-90) scale(1.0119 1.0201)">Intensity(a.u.)</text>
<text class="lb" transform="translate(815.63 196.10) scale(1.0513 1.0369)">D</text>
<text class="lb" transform="translate(1049.60 163.24) scale(1.0748 1.0593)">G</text>
<text class="lb" transform="translate(403.58 429.11) scale(1.1534 1.0995)">α</text>
<path d="M1475.1 142.7H1621.9" stroke="#4f4f4f" stroke-width="4.2" stroke-linecap="round" fill="none"/>
<circle cx="1548.3" cy="142.7" r="3" fill="#4f4f4f"/>
<text class="lb" transform="translate(1639.99 169.24) scale(1.0096 1.0535)">CNM-500</text>
<path d="M1476.7 232.2H1620.3" stroke="#ff0000" stroke-width="7.4" stroke-linecap="round" fill="none"/>
<text class="lb" transform="translate(1639.99 258.14) scale(1.0096 1.0494)">CNM-600</text>
<path d="M1476.6 321.4H1620.4" stroke="#196de0" stroke-width="7.2" stroke-linecap="round" fill="none"/>
<text class="lb" transform="translate(1639.99 348.24) scale(1.0096 1.0494)">CNM-800</text>
</svg>
</body></html>
